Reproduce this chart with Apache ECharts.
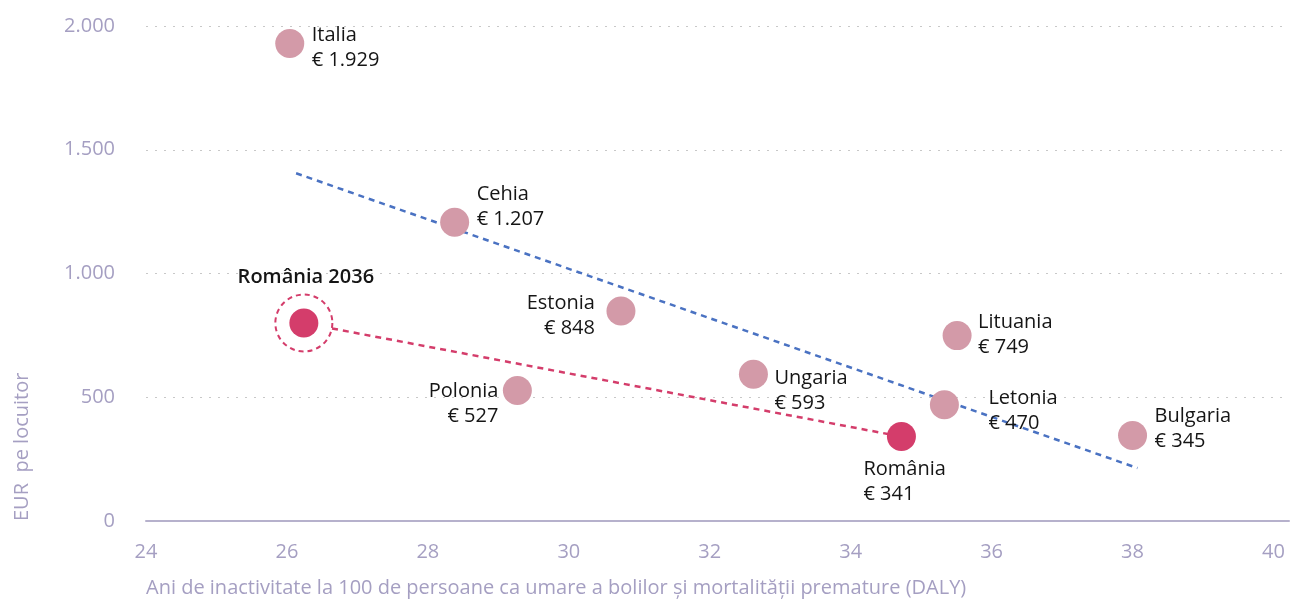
<!DOCTYPE html>
<html>
<head>
<meta charset="utf-8">
<script src="https://cdn.jsdelivr.net/npm/echarts@6/dist/echarts.min.js"></script>
<style>
  html, body { margin: 0; padding: 0; background: #fff; }
  #chart { width: 1292px; height: 599px; }
</style>
</head>
<body>
<div id="chart"></div>
<script>
// data
const countries = ["Italia", "Cehia", "Estonia", "Polonia", "Ungaria", "România", "Letonia", "Lituania", "Bulgaria"]
const daly = [26.04, 28.38, 30.74, 29.27, 32.62, 34.72, 35.33, 35.51, 38.0]
const eurPerCapita = [1929, 1207, 848, 527, 593, 341, 470, 749, 345]

const target2036Name = "România 2036"
const target2036 = [26.24, 800]

// dashed trend line (start / end)
const trendX = [26.13, 38.07]
const trendY = [1405, 214]

// dashed path România -> România 2036
const pathX = [26.64, 34.72]
const pathY = [778, 341]

const xTicks = [24, 26, 28, 30, 32, 34, 36, 38, 40]
const yTicks = [0, 500, 1000, 1500, 2000]

const xName = "Ani de inactivitate la 100 de persoane ca umare a bolilor și mortalității premature (DALY)"
const yName = "EUR  pe locuitor"

// label placement: [align, dx, dy] from the point centre
const labelPlace = {
  "Italia": ["left", 22, 4],
  "Cehia": ["left", 22, -15],
  "Estonia": ["right", -26, 5],
  "Polonia": ["right", -19, 13],
  "Ungaria": ["left", 21, 17],
  "România": ["left", -38, 45],
  "Letonia": ["left", 44, 6],
  "Lituania": ["left", 21, -1],
  "Bulgaria": ["left", 22, -7],
}

const FONT = "'Open Sans', Lato, sans-serif"
const AXIS_COLOR = "#a59fc2"
const PINK_LIGHT = "#d39aa8"
const PINK = "#d43d6b"
const BLUE = "#4a72c2"

const fmt = (v) => String(v).replace(/\B(?=(\d{3})+(?!\d))/g, ".")

const chart = echarts.init(document.getElementById("chart"))

const countryData = countries.map((name, i) => {
  const p = labelPlace[name]
  return {
    name: name,
    value: [daly[i], eurPerCapita[i]],
    itemStyle: { color: name === "România" ? PINK : PINK_LIGHT },
    label: {
      show: true,
      position: "inside",
      align: p[0],
      verticalAlign: "middle",
      offset: [p[1], p[2]],
      formatter: name + "\n€ " + fmt(eurPerCapita[i]),
    },
  }
})

const option = {
  backgroundColor: "#fff",
  animation: false,
  textStyle: { fontFamily: FONT },
  title: {
    text: xName,
    left: 146,
    top: 578,
    padding: 0,
    textStyle: {
      fontFamily: FONT,
      fontSize: 20,
      fontWeight: "normal",
      color: AXIS_COLOR,
    },
  },
  graphic: [
    {
      type: "text",
      x: 22,
      y: 521,
      rotation: Math.PI / 2,
      style: {
        text: yName,
        fontFamily: FONT,
        fontSize: 20,
        fill: AXIS_COLOR,
        textAlign: "left",
        textVerticalAlign: "middle",
      },
    },
  ],
  grid: {
    left: 146,
    right: 0,
    top: 26,
    bottom: 78,
  },
  xAxis: {
    type: "value",
    min: xTicks[0],
    max: 40.22,
    interval: 2,
    axisLine: { show: true, lineStyle: { color: "#b6b1cc", width: 2 } },
    axisTick: { show: false },
    splitLine: { show: false },
    axisLabel: {
      color: AXIS_COLOR,
      fontSize: 20,
      fontFamily: FONT,
      margin: 21,
      formatter: (v) => (xTicks.indexOf(v) >= 0 ? String(v) : ""),
    },
  },
  yAxis: {
    type: "value",
    min: yTicks[0],
    max: yTicks[yTicks.length - 1],
    interval: 500,
    axisLine: { show: false },
    axisTick: { show: false },
    splitLine: {
      show: true,
      lineStyle: { color: "#c8c8c8", width: 1.2, type: [2, 7] },
    },
    axisLabel: {
      color: AXIS_COLOR,
      fontSize: 20,
      fontFamily: FONT,
      margin: 31,
      formatter: (v) => fmt(v),
    },
  },
  series: [
    {
      name: "trend",
      type: "line",
      silent: true,
      symbol: "none",
      z: 1,
      data: trendX.map((x, i) => [x, trendY[i]]),
      lineStyle: { color: BLUE, width: 2.5, type: [6, 5] },
    },
    {
      name: "path",
      type: "line",
      silent: true,
      symbol: "none",
      z: 1,
      data: pathX.map((x, i) => [x, pathY[i]]),
      lineStyle: { color: PINK, width: 2.5, type: [6, 5] },
    },
    {
      name: "tari",
      type: "scatter",
      symbolSize: 29,
      z: 3,
      data: countryData,
      itemStyle: { opacity: 1 },
      label: {
        fontFamily: FONT,
        fontSize: 20,
        lineHeight: 25,
        color: "#151515",
      },
      emphasis: { disabled: true },
    },
    {
      name: "ring",
      type: "scatter",
      symbolSize: 57,
      z: 2,
      silent: true,
      data: [target2036],
      itemStyle: {
        color: "rgba(255,255,255,0)",
        opacity: 1,
        borderColor: PINK,
        borderWidth: 2,
        borderType: [5, 4],
      },
    },
    {
      name: "tinta",
      type: "scatter",
      symbolSize: 29,
      z: 3,
      data: [
        {
          name: target2036Name,
          value: target2036,
          label: {
            show: true,
            position: "inside",
            align: "center",
            verticalAlign: "middle",
            offset: [2, -46],
            formatter: target2036Name,
            fontFamily: FONT,
            fontSize: 20,
            fontWeight: 600,
            color: "#151515",
          },
        },
      ],
      itemStyle: { color: PINK, opacity: 1 },
      emphasis: { disabled: true },
    },
  ],
}

chart.setOption(option)
</script>
</body>
</html>
